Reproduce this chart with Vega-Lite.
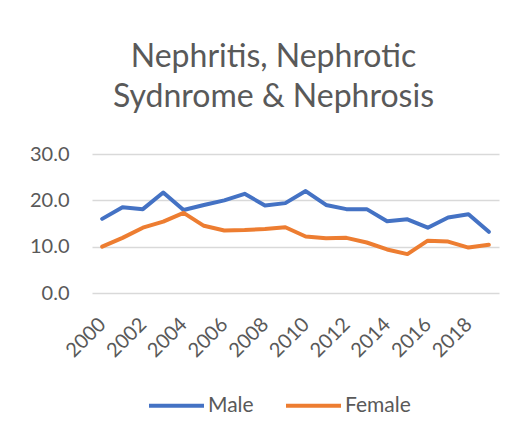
{
  "$schema": "https://vega.github.io/schema/vega-lite/v6.json",
  "autosize": "none",
  "width": 407,
  "height": 139,
  "padding": {"left": 92, "top": 154, "right": 28, "bottom": 142},
  "background": "white",
  "title": {
    "text": ["Nephritis, Nephrotic", "Sydnrome & Nephrosis"],
    "font": "Lato",
    "fontSize": 32,
    "fontWeight": "normal",
    "color": "#595959",
    "lineHeight": 40,
    "anchor": "middle",
    "dx": -22,
    "offset": 30
  },
  "data": {
    "values": [
      {"year": 2000, "sex": "Male", "rate": 16.0},
      {"year": 2001, "sex": "Male", "rate": 18.5},
      {"year": 2002, "sex": "Male", "rate": 18.1},
      {"year": 2003, "sex": "Male", "rate": 21.7},
      {"year": 2004, "sex": "Male", "rate": 17.9},
      {"year": 2005, "sex": "Male", "rate": 19.0},
      {"year": 2006, "sex": "Male", "rate": 20.0},
      {"year": 2007, "sex": "Male", "rate": 21.4},
      {"year": 2008, "sex": "Male", "rate": 18.9},
      {"year": 2009, "sex": "Male", "rate": 19.4},
      {"year": 2010, "sex": "Male", "rate": 22.0},
      {"year": 2011, "sex": "Male", "rate": 19.0},
      {"year": 2012, "sex": "Male", "rate": 18.1},
      {"year": 2013, "sex": "Male", "rate": 18.1},
      {"year": 2014, "sex": "Male", "rate": 15.5},
      {"year": 2015, "sex": "Male", "rate": 15.9},
      {"year": 2016, "sex": "Male", "rate": 14.1},
      {"year": 2017, "sex": "Male", "rate": 16.3},
      {"year": 2018, "sex": "Male", "rate": 17.0},
      {"year": 2019, "sex": "Male", "rate": 13.2},
      {"year": 2000, "sex": "Female", "rate": 10.0},
      {"year": 2001, "sex": "Female", "rate": 11.9},
      {"year": 2002, "sex": "Female", "rate": 14.1},
      {"year": 2003, "sex": "Female", "rate": 15.4},
      {"year": 2004, "sex": "Female", "rate": 17.3},
      {"year": 2005, "sex": "Female", "rate": 14.5},
      {"year": 2006, "sex": "Female", "rate": 13.5},
      {"year": 2007, "sex": "Female", "rate": 13.6},
      {"year": 2008, "sex": "Female", "rate": 13.8},
      {"year": 2009, "sex": "Female", "rate": 14.2},
      {"year": 2010, "sex": "Female", "rate": 12.2},
      {"year": 2011, "sex": "Female", "rate": 11.8},
      {"year": 2012, "sex": "Female", "rate": 11.9},
      {"year": 2013, "sex": "Female", "rate": 10.9},
      {"year": 2014, "sex": "Female", "rate": 9.4},
      {"year": 2015, "sex": "Female", "rate": 8.4},
      {"year": 2016, "sex": "Female", "rate": 11.3},
      {"year": 2017, "sex": "Female", "rate": 11.1},
      {"year": 2018, "sex": "Female", "rate": 9.8},
      {"year": 2019, "sex": "Female", "rate": 10.4}
    ]
  },
  "mark": {"type": "line", "strokeWidth": 4, "strokeCap": "round", "strokeJoin": "round"},
  "encoding": {
    "x": {
      "field": "year",
      "type": "ordinal",
      "scale": {"paddingInner": 0, "paddingOuter": 0.5},
      "axis": {
        "title": null,
        "values": [2000, 2002, 2004, 2006, 2008, 2010, 2012, 2014, 2016, 2018],
        "labelAngle": -45,
        "labelAlign": "right",
        "labelBaseline": "middle",
        "labelFont": "Lato",
        "labelFontSize": 20,
        "labelColor": "#595959",
        "labelPadding": 28,
        "ticks": false,
        "domain": false,
        "grid": false
      }
    },
    "y": {
      "field": "rate",
      "type": "quantitative",
      "scale": {"domain": [0, 30], "nice": false},
      "axis": {
        "title": null,
        "values": [0, 10, 20, 30],
        "format": ".1f",
        "labelFont": "Lato",
        "labelFontSize": 20,
        "labelColor": "#595959",
        "labelPadding": 23,
        "ticks": false,
        "domain": false,
        "grid": true,
        "gridColor": "#D9D9D9",
        "gridWidth": 1.3
      }
    },
    "color": {
      "field": "sex",
      "type": "nominal",
      "scale": {"domain": ["Male", "Female"], "range": ["#4472C4", "#ED7D31"]},
      "legend": {
        "title": null,
        "orient": "none",
        "direction": "horizontal",
        "legendX": 55,
        "legendY": 222,
        "symbolType": "stroke",
        "symbolSize": 3025,
        "symbolStrokeWidth": 4,
        "labelFont": "Lato",
        "labelFontSize": 21,
        "labelColor": "#595959",
        "labelOffset": 2,
        "columnPadding": 24
      }
    }
  },
  "config": {"view": {"stroke": null}}
}
